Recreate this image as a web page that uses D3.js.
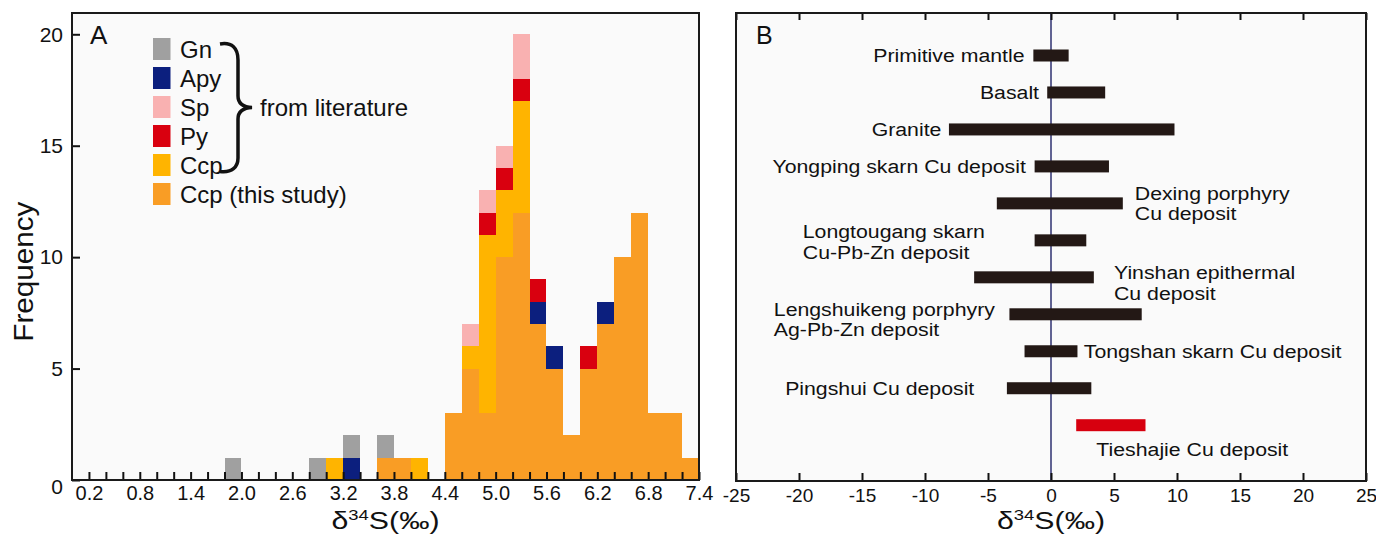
<!DOCTYPE html>
<html>
<head>
<meta charset="utf-8">
<script src="https://cdn.jsdelivr.net/npm/d3@7"></script>
<style>
body { margin: 0; background: #fff; }
svg text { font-family: "Liberation Sans", Arial, sans-serif; fill: #111; }
</style>
</head>
<body>
<div class="contents"></div>
<script>
var width = 1376;
var height = 534;

// ---- panel A: d34S histogram, bins are 0.2 wide (lower edge listed) ----
var binStart = [1.8, 2.8, 3.0, 3.2, 3.6, 3.8, 4.0, 4.4, 4.6, 4.8, 5.0, 5.2, 5.4, 5.6, 5.8, 6.0, 6.2, 6.4, 6.6, 6.8, 7.0, 7.2];
var ccpThis = [0, 0, 0, 0, 1, 1, 0, 3, 5, 3, 10, 12, 7, 5, 2, 5, 7, 10, 12, 3, 3, 1];
var ccpLit  = [0, 0, 1, 0, 0, 0, 1, 0, 1, 8, 3, 5, 0, 0, 0, 0, 0, 0, 0, 0, 0, 0];
var apy     = [0, 0, 0, 1, 0, 0, 0, 0, 0, 0, 0, 0, 1, 1, 0, 0, 1, 0, 0, 0, 0, 0];
var py      = [0, 0, 0, 0, 0, 0, 0, 0, 0, 1, 1, 1, 1, 0, 0, 1, 0, 0, 0, 0, 0, 0];
var sp      = [0, 0, 0, 0, 0, 0, 0, 0, 1, 1, 1, 2, 0, 0, 0, 0, 0, 0, 0, 0, 0, 0];
var gn      = [1, 1, 0, 1, 1, 0, 0, 0, 0, 0, 0, 0, 0, 0, 0, 0, 0, 0, 0, 0, 0, 0];

var legendKeys   = ["gn", "apy", "sp", "py", "ccpLit", "ccpThis"];
var legendLabels = ["Gn", "Apy", "Sp", "Py", "Ccp", "Ccp (this study)"];
var tickLabelsA  = ["0.2", "0.8", "1.4", "2.0", "2.6", "3.2", "3.8", "4.4", "5.0", "5.6", "6.2", "6.8", "7.4"];
var yTicksA      = [0, 5, 10, 15, 20];

// ---- panel B: d34S ranges of sulfur reservoirs / deposits ----
var sources = ["Primitive mantle", "Basalt", "Granite", "Yongping skarn Cu deposit",
  "Dexing porphyry Cu deposit", "Longtougang skarn Cu-Pb-Zn deposit", "Yinshan epithermal Cu deposit",
  "Lengshuikeng porphyry Ag-Pb-Zn deposit", "Tongshan skarn Cu deposit", "Pingshui Cu deposit",
  "Tieshajie Cu deposit"];
var rangeMin = [-1.4, -0.3, -8.1, -1.3, -4.3, -1.3, -6.1, -3.3, -2.1, -3.5, 2.0];
var rangeMax = [1.4, 4.3, 9.8, 4.6, 5.7, 2.8, 3.4, 7.2, 2.1, 3.2, 7.5];
var xTicksB  = [-25, -20, -15, -10, -5, 0, 5, 10, 15, 20, 25];

var colors = {ccpThis: "#f99d25", ccpLit: "#ffb400", apy: "#0c1f7e",
              py: "#d9000f", sp: "#f9b1b1", gn: "#a0a0a0"};

// label placement for panel B (anchor in d34S units, line offsets in px)
var labelLayout = [
  {lines: ["Primitive mantle"], x: -2.1, anchor: "end", dy: [0]},
  {lines: ["Basalt"], x: -0.95, anchor: "end", dy: [0]},
  {lines: ["Granite"], x: -8.7, anchor: "end", dy: [0]},
  {lines: ["Yongping skarn Cu deposit"], x: -2.0, anchor: "end", dy: [0]},
  {lines: ["Dexing porphyry", "Cu deposit"], x: 6.65, anchor: "start", dy: [-10.5, 10]},
  {lines: ["Longtougang skarn", "Cu-Pb-Zn deposit"], x: -19.7, anchor: "start", dy: [-9, 12]},
  {lines: ["Yinshan epithermal", "Cu deposit"], x: 5.0, anchor: "start", dy: [-5, 16]},
  {lines: ["Lengshuikeng porphyry", "Ag-Pb-Zn deposit"], x: -22.0, anchor: "start", dy: [-5, 14.6]},
  {lines: ["Tongshan skarn Cu deposit"], x: 2.6, anchor: "start", dy: [0]},
  {lines: ["Pingshui Cu deposit"], x: -21.1, anchor: "start", dy: [0]},
  {lines: ["Tieshajie Cu deposit"], x: 3.6, anchor: "start", dy: [24]}
];

var svg = d3.select(".contents").append("svg")
  .attr("width", width)
  .attr("height", height);

/* ================= panel A ================= */
var pa = {left: 72, right: 699, top: 13, bottom: 480};
var xA = d3.scaleLinear().domain([0, 7.4]).range([pa.left, pa.right]);
var yA = d3.scaleLinear().domain([0, 21]).range([pa.bottom, 12]);

svg.append("rect")
  .attr("x", pa.left).attr("y", pa.top)
  .attr("width", pa.right - pa.left).attr("height", pa.bottom - pa.top)
  .style("fill", "#fafafa");

var rows = binStart.map(function(b, i) {
  return {bin: b, ccpThis: ccpThis[i], ccpLit: ccpLit[i], apy: apy[i], py: py[i], sp: sp[i], gn: gn[i]};
});
var series = d3.stack().keys(["ccpThis", "ccpLit", "apy", "py", "sp", "gn"])(rows);

svg.append("g")
  .selectAll("g")
  .data(series)
  .enter()
  .append("g")
  .style("fill", function(d) { return colors[d.key]; })
  .selectAll("rect")
  .data(function(d) { return d; })
  .enter()
  .append("rect")
  .attr("x", function(d) { return xA(d.data.bin); })
  .attr("width", function(d) { return xA(d.data.bin + 0.2) - xA(d.data.bin); })
  .attr("y", function(d) { return yA(d[1]); })
  .attr("height", function(d) { return yA(d[0]) - yA(d[1]); })
  .attr("shape-rendering", "crispEdges");

// axes, ticks pointing inward
var minorA = d3.range(1, 38).map(function(i) { return +(i * 0.2).toFixed(1); });
var gxA = svg.append("g")
  .attr("transform", "translate(0," + pa.bottom + ")")
  .call(d3.axisBottom(xA)
    .tickValues(minorA)
    .tickSizeInner(-8).tickSizeOuter(0).tickPadding(6)
    .tickFormat(function(d) {
      var s = d.toFixed(1);
      return tickLabelsA.indexOf(s) >= 0 ? s : "";
    }));
gxA.select(".domain").remove();
gxA.selectAll("line").style("stroke", "#111").style("stroke-width", 2);
gxA.selectAll("text").style("font-size", "20px").style("fill", "#111");

var gyA = svg.append("g")
  .attr("transform", "translate(" + pa.left + ",0)")
  .call(d3.axisLeft(yA).tickValues(yTicksA).tickSizeInner(-8).tickSizeOuter(0).tickPadding(9));
gyA.select(".domain").remove();
gyA.selectAll("line").style("stroke", "#111").style("stroke-width", 2);
gyA.selectAll("text").style("font-size", "21px").style("fill", "#111")
  .attr("dy", function(d) { return d === 0 ? "0.62em" : "0.32em"; });

svg.append("rect")
  .attr("x", pa.left).attr("y", pa.top)
  .attr("width", pa.right - pa.left).attr("height", pa.bottom - pa.top)
  .style("fill", "none").style("stroke", "#1a1a1a").style("stroke-width", 2);

svg.append("text")
  .attr("x", 90).attr("y", 43.5)
  .style("font-size", "26px")
  .text("A");

// legend
var legend = svg.append("g");
legendKeys.forEach(function(k, i) {
  var y0 = 38 + 29 * i;
  legend.append("rect")
    .attr("x", 153).attr("y", y0)
    .attr("width", 17.5).attr("height", 22)
    .style("fill", colors[k]);
  legend.append("text")
    .attr("x", 180).attr("y", y0 + 11)
    .attr("dy", "0.36em")
    .style("font-size", "24px")
    .text(legendLabels[i]);
});

svg.append("path")
  .attr("d", "M220,44 C232,42 238,48 238,60 L238,96 C238,103 243,107 252,107.5 " +
             "C243,108 238,112 238,119 L238,158 C238,167 232,173 220,171.5")
  .style("fill", "none").style("stroke", "#111").style("stroke-width", 3.5);

svg.append("text")
  .attr("x", 260).attr("y", 107.5).attr("dy", "0.36em")
  .style("font-size", "24px")
  .text("from literature");

svg.append("text")
  .attr("transform", "translate(33,271.7) rotate(-90)")
  .attr("text-anchor", "middle")
  .attr("textLength", 140).attr("lengthAdjust", "spacingAndGlyphs")
  .style("font-size", "28px")
  .text("Frequency");

function axisTitle(cx) {
  var t = svg.append("text")
    .attr("x", cx).attr("y", 529)
    .attr("text-anchor", "middle")
    .attr("textLength", 108).attr("lengthAdjust", "spacingAndGlyphs")
    .style("font-size", "23px");
  t.append("tspan").text("δ");
  t.append("tspan").attr("dy", -9).style("font-size", "14px").text("34");
  t.append("tspan").attr("dy", 9).text("S(‰)");
}
axisTitle((pa.left + pa.right) / 2);

/* ================= panel B ================= */
var pb = {left: 736, right: 1366, top: 13, bottom: 481};
var xB = d3.scaleLinear().domain([-25, 25]).range([pb.left, pb.right]);
var yB = d3.scalePoint().domain(sources).range([55.5, 425.2]);

svg.append("rect")
  .attr("x", pb.left).attr("y", pb.top)
  .attr("width", pb.right - pb.left).attr("height", pb.bottom - pb.top)
  .style("fill", "#fafafa");

svg.append("line")
  .attr("x1", xB(0)).attr("x2", xB(0))
  .attr("y1", pb.top).attr("y2", pb.bottom)
  .style("stroke", "#2e3170").style("stroke-width", 1.5);

svg.append("g")
  .selectAll("rect")
  .data(sources)
  .enter()
  .append("rect")
  .attr("x", function(d, i) { return xB(rangeMin[i]); })
  .attr("width", function(d, i) { return xB(rangeMax[i]) - xB(rangeMin[i]); })
  .attr("y", function(d) { return yB(d) - 6; })
  .attr("height", 12)
  .style("fill", function(d, i) { return i === sources.length - 1 ? "#d7000f" : "#231815"; });

var labels = svg.append("g");
labelLayout.forEach(function(l, i) {
  var cy = yB(sources[i]);
  l.lines.forEach(function(line, j) {
    labels.append("text")
      .attr("transform", "translate(" + xB(l.x) + "," + (cy + l.dy[j] + 6.8) + ") scale(1.12,1)")
      .attr("text-anchor", l.anchor)
      .style("font-size", "19px")
      .text(line);
  });
});

var gxB = svg.append("g")
  .attr("transform", "translate(0," + pb.bottom + ")")
  .call(d3.axisBottom(xB).tickValues(xTicksB)
    .tickSizeInner(-8).tickSizeOuter(0).tickPadding(8)
    .tickFormat(function(d) { return String(d); }));
gxB.select(".domain").remove();
gxB.selectAll("line").style("stroke", "#111").style("stroke-width", 2);
gxB.selectAll("text").style("font-size", "19px").style("fill", "#111");

var gtB = svg.append("g")
  .attr("transform", "translate(0," + pb.top + ")")
  .call(d3.axisTop(xB).tickValues(xTicksB).tickSizeInner(-7).tickSizeOuter(0).tickFormat(""));
gtB.select(".domain").remove();
gtB.selectAll("line").style("stroke", "#111").style("stroke-width", 2);

svg.append("rect")
  .attr("x", pb.left).attr("y", pb.top)
  .attr("width", pb.right - pb.left).attr("height", pb.bottom - pb.top)
  .style("fill", "none").style("stroke", "#1a1a1a").style("stroke-width", 2);

svg.append("text")
  .attr("x", 756).attr("y", 43.5)
  .style("font-size", "25px")
  .text("B");

axisTitle(xB(0));
</script>
</body>
</html>
